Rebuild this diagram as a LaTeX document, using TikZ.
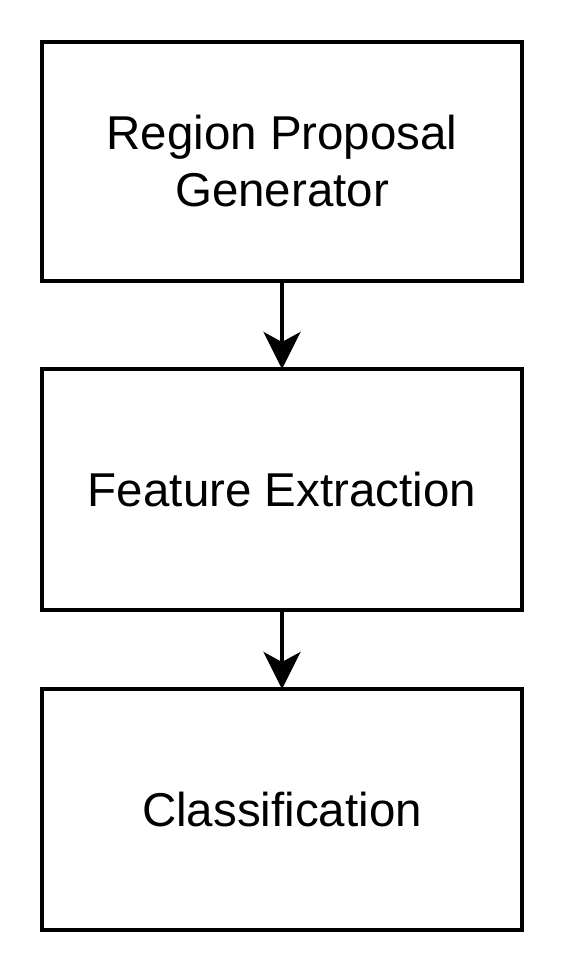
\documentclass[tikz,border=0pt]{standalone}
\usepackage{fontspec}
\setmainfont{Liberation Sans}
\usetikzlibrary{arrows.meta}
\begin{document}
\begin{tikzpicture}[x=1pt,y=-1pt,
  stagebox/.style={draw=black, line width=4pt, fill=white, minimum width=480pt, inner sep=0pt, outer sep=0pt, align=center, font=\fontsize{47.5pt}{57pt}\selectfont},
  flowarrow/.style={line width=4pt, -{Stealth[length=37pt, width=37pt, inset=10pt]}}]
\useasboundingbox (0,0) rectangle (564,972);
\node[stagebox, minimum height=239pt] (a) at (282,161.5) {Region Proposal\\Generator};
\node[stagebox, minimum height=241pt] (b) at (282,489.5) {Feature Extraction};
\node[stagebox, minimum height=241pt] (c) at (282,809.5) {Classification};
\draw[flowarrow] (a.south) -- (b.north);
\draw[flowarrow] (b.south) -- (c.north);
\end{tikzpicture}
\end{document}
